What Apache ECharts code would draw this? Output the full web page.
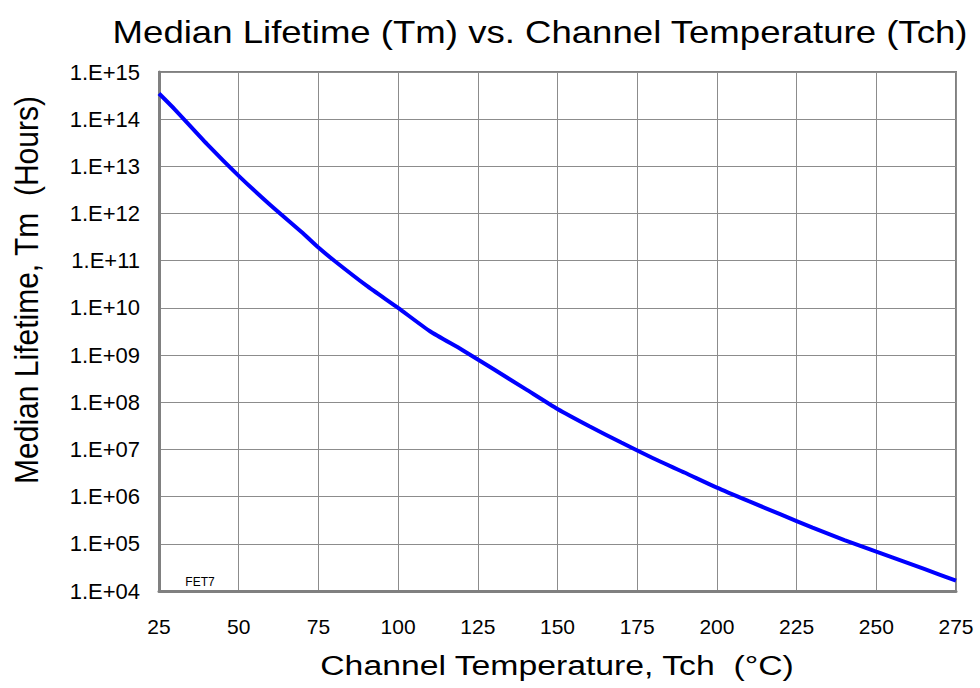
<!DOCTYPE html>
<html>
<head>
<meta charset="utf-8">
<script src="https://cdn.jsdelivr.net/npm/echarts@6/dist/echarts.min.js"></script>
<style>
  html, body { margin: 0; padding: 0; background: #fff; }
  #chart { width: 980px; height: 688px; }
</style>
</head>
<body>
<div id="chart"></div>
<script>
'use strict';

// channel temperature (°C)
const temps = [25, 30, 40, 50, 60, 70, 75, 80, 90, 100, 110, 120, 130, 140, 150,
  160, 170, 180, 190, 200, 210, 220, 230, 240, 250, 260, 270, 275];
// median lifetime (hours)
const lifetime = [3.5e14, 1.6e14, 3.0e13, 6.3e12, 1.5e12, 3.9e11, 1.9e11, 1.0e11, 3.0e10, 1.0e10, 3.2e9, 1.3e9, 5.0e8, 1.9e8, 7.2e7,
  3.1e7, 1.4e7, 6.5e6, 3.2e6, 1.55e6, 8.0e5, 4.2e5, 2.2e5, 1.2e5, 6.8e4, 3.9e4, 2.2e4, 1.65e4];

const titleText = 'Median Lifetime (Tm) vs. Channel Temperature (Tch)';
const xName = 'Channel Temperature, Tch  (°C)';
const yName = 'Median Lifetime, Tm  (Hours)';

const chart = echarts.init(document.getElementById('chart'), null, { renderer: 'svg' });
const font = 'Liberation Sans, Arial, sans-serif';

// 1e15 -> "1.E+15"
function expLabel(v) {
  const e = Math.round(Math.log10(v));
  return '1.E+' + (e < 10 ? '0' + e : e);
}

// the source picture is a bit wider than tall, so the texts get a small stretch
function label(text, x, y, size, opts) {
  return Object.assign({
    type: 'text', x: x, y: y, silent: true,
    style: { text: text, fontFamily: font, fontSize: size, fill: '#000', align: 'center', verticalAlign: 'middle' }
  }, opts || {});
}

const option = {
  animation: false,
  grid: {
    left: 159, right: 24, top: 72, bottom: 97,
    show: true, borderColor: '#808080', borderWidth: 2
  },
  xAxis: {
    type: 'value', min: 25, max: 275, interval: 25,
    axisLine: { show: true, lineStyle: { color: '#808080', width: 3 } },
    axisTick: { show: false },
    axisLabel: { margin: 25, fontFamily: font, fontSize: 21, color: '#000' },
    splitLine: { show: true, lineStyle: { color: '#8c8c8c', width: 1 } }
  },
  yAxis: {
    type: 'log', logBase: 10, min: 1e4, max: 1e15, interval: 1,
    axisLine: { show: true, lineStyle: { color: '#808080', width: 3 } },
    axisTick: { show: false },
    axisLabel: { margin: 19, fontFamily: font, fontSize: 22, color: '#000', formatter: expLabel },
    splitLine: { show: true, lineStyle: { color: '#8c8c8c', width: 1 } },
    minorSplitLine: { show: false }
  },
  graphic: [
    label(titleText, 540, 32, 31, { scaleX: 1.18 }),
    label(xName, 557, 665, 27, { scaleX: 1.25 }),
    label(yName, 26, 290, 30, { rotation: Math.PI / 2, scaleY: 1.12 }),
    label('FET7', 200, 582, 12)
  ],
  series: [{
    type: 'line',
    data: temps.map((t, i) => [t, lifetime[i]]),
    showSymbol: false,
    smooth: 0.2,
    lineStyle: { color: '#0000ff', width: 4 }
  }]
};

option && chart.setOption(option);
</script>
</body>
</html>
